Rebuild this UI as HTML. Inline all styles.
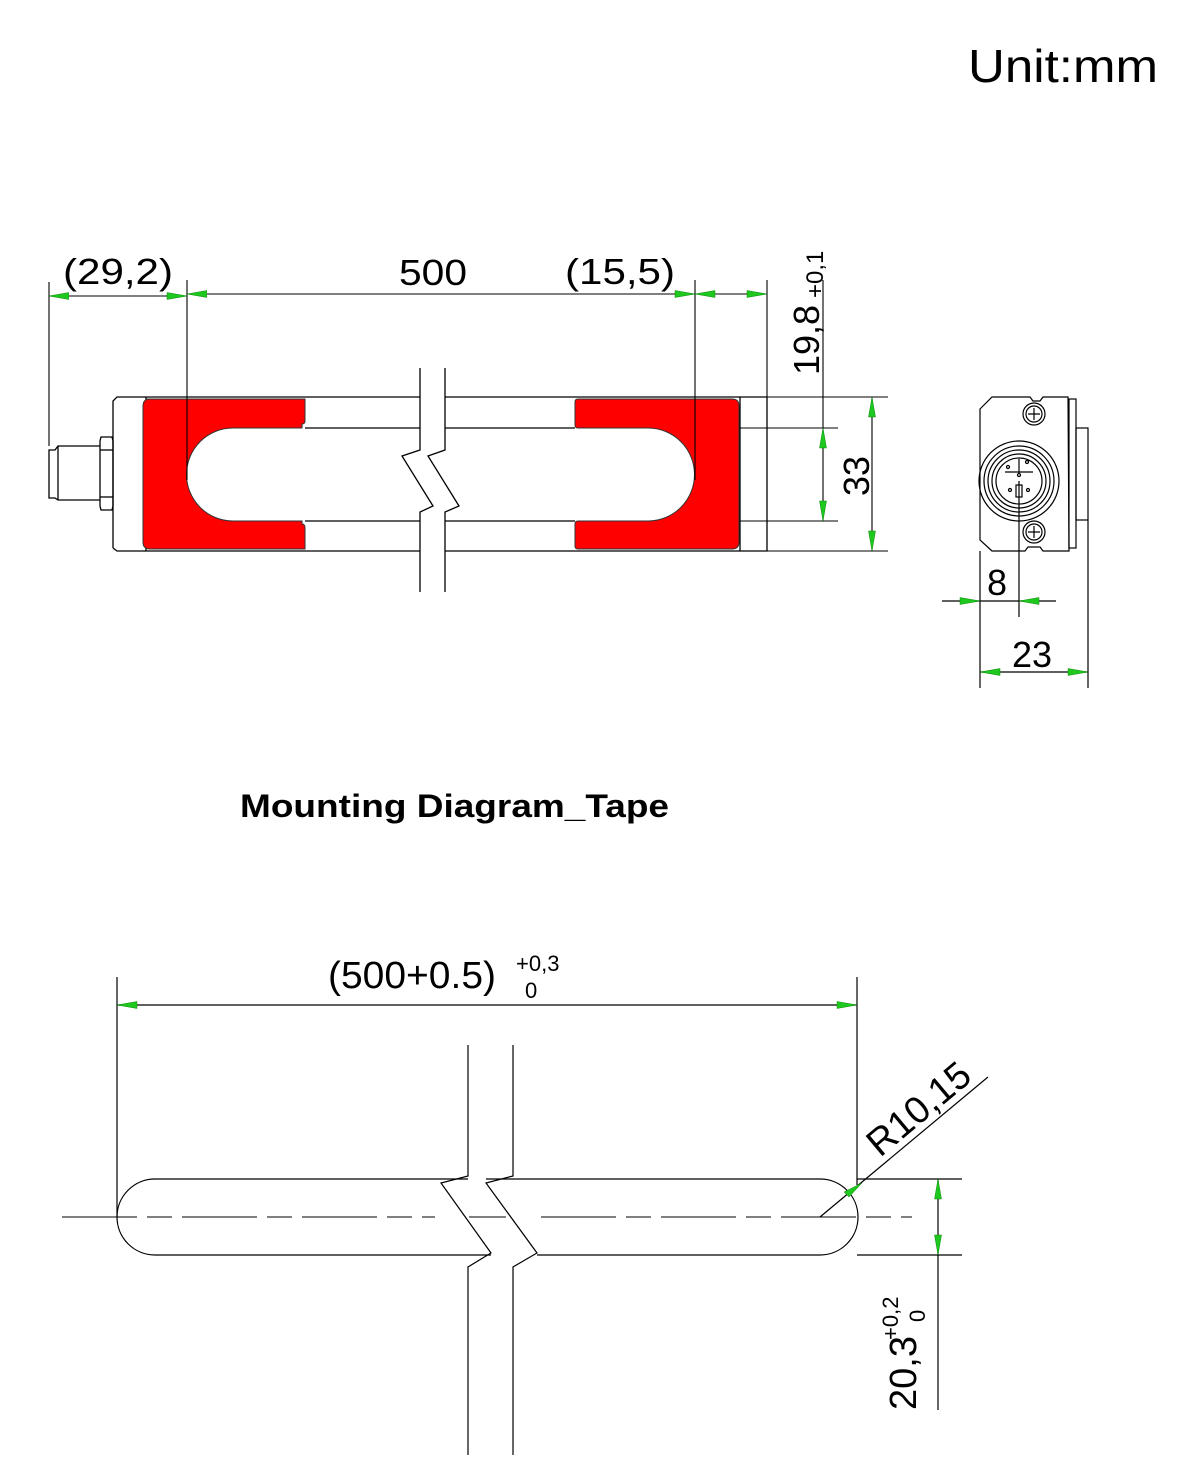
<!DOCTYPE html>
<html><head><meta charset="utf-8"><style>
html,body{margin:0;padding:0;background:#fff;}
svg{display:block;font-family:"Liberation Sans",sans-serif;}
</style></head><body>
<svg width="1179" height="1480" viewBox="0 0 1179 1480" xmlns="http://www.w3.org/2000/svg">
<defs>
<marker id="a" viewBox="0 0 20 8" markerWidth="20" markerHeight="8" refX="0" refY="4" orient="auto" markerUnits="userSpaceOnUse"><path d="M0,4 L20,0.5 L20,7.5 Z" fill="#1ec81e" stroke="#0a8a0a" stroke-width="0.5"/></marker>
</defs>
<g stroke="#000" stroke-width="1.3" fill="none">
<!-- top view body -->
<path d="M113,548 L113,401 L117,397 L420,397 M445,397 L767,397 L767,551 L445,551 M420,551 L117,551 L113,548"/>
<line x1="146" y1="397" x2="146" y2="551"/>
<line x1="740" y1="397" x2="740" y2="551"/>
<line x1="305" y1="428" x2="420" y2="428"/><line x1="445" y1="428" x2="575" y2="428"/>
<line x1="305" y1="521" x2="420" y2="521"/><line x1="445" y1="521" x2="575" y2="521"/>
<rect x="420" y="368" width="25" height="224" fill="#fff" stroke="none"/>
<path d="M420,368 L420,450 L402,456 L433,506 L420,512 L420,592"/>
<path d="M445,368 L445,450 L428,456 L459,506 L445,512 L445,592"/>
<!-- connector -->
<path d="M101,437 L112,437 L113,441 L113,506 L112,510 L101,510 L100,506 L100,441 Z"/>
<line x1="100" y1="450" x2="113" y2="450"/><line x1="100" y1="497" x2="113" y2="497"/>
<path d="M100,446 L58,446 L55,450 L49,450 L49,498 L55,498 L58,500 L100,500"/>
<line x1="58" y1="446" x2="58" y2="500"/>
</g>
<!-- red pads -->
<path d="M146,399 H305 V421 Q305,424 302,424 V428 H233 A46.5,46.5 0 0 0 233,521 H302 V524 Q305,524 305,528 V549 H150 Q143,549 143,542 V406 Q143,399 150,399 Z" fill="#ff0000" stroke="#333" stroke-width="1"/>
<path d="M578,399 H732 Q739,399 739,406 V542 Q739,549 732,549 H578 Q575,549 575,546 V524 Q575,521 578,521 H648 A46.5,46.5 0 0 0 648,428 H578 Q575,428 575,425 V402 Q575,399 578,399 Z" fill="#ff0000" stroke="#333" stroke-width="1"/>
<g stroke="#000" stroke-width="1.1" fill="none">
<line x1="49" y1="282" x2="49" y2="446"/>
<line x1="187" y1="280" x2="187" y2="480"/>
<line x1="695" y1="280" x2="695" y2="480"/>
<line x1="767" y1="280" x2="767" y2="397"/>
<line x1="49" y1="296" x2="187" y2="296" marker-start="url(#a)"/>
<line x1="187" y1="294" x2="695" y2="294" marker-start="url(#a)"/>
<line x1="695" y1="294" x2="767" y2="294"/>
<path d="M187,296 l-20,-3.5 v7 z" fill="#1ec81e" stroke="#0a8a0a" stroke-width="0.5"/>
<path d="M695,294 l-20,-3.5 v7 z" fill="#1ec81e" stroke="#0a8a0a" stroke-width="0.5"/>
<path d="M695,294 l20,-3.5 v7 z" fill="#1ec81e" stroke="#0a8a0a" stroke-width="0.5"/>
<path d="M767,294 l-20,-3.5 v7 z" fill="#1ec81e" stroke="#0a8a0a" stroke-width="0.5"/>
<line x1="767" y1="397" x2="888" y2="397"/><line x1="767" y1="551" x2="888" y2="551"/>
<line x1="740" y1="428" x2="838" y2="428"/><line x1="740" y1="521" x2="838" y2="521"/>
<line x1="823" y1="280" x2="823" y2="521"/>
<line x1="872" y1="397" x2="872" y2="551"/>
</g>
<g fill="#1ec81e" stroke="#0a8a0a" stroke-width="0.5">
<path d="M823,428 l-3.5,20 h7 z"/><path d="M823,521 l-3.5,-20 h7 z"/>
<path d="M872,397 l-3.5,20 h7 z"/><path d="M872,551 l-3.5,-20 h7 z"/>
</g>
<g font-size="36" fill="#000">
<text x="63" y="284" textLength="110" lengthAdjust="spacingAndGlyphs">(29,2)</text>
<text x="399" y="285" textLength="68" lengthAdjust="spacingAndGlyphs">500</text>
<text x="565" y="284" textLength="110" lengthAdjust="spacingAndGlyphs">(15,5)</text>
<text transform="translate(819,375) rotate(-90)">19,8</text>
<text transform="translate(823,298) rotate(-90)" font-size="24">+0,1</text>
<text transform="translate(869,496) rotate(-90)">33</text>
</g>
<!-- side view -->
<g stroke="#000" stroke-width="1.2" fill="none">
<path d="M980,409 L992,397 L1030,397 L1033,401 L1040,401 L1043,397 L1068,397 L1069,551 L1043,551 L1040,547 L1028,547 L1025,551 L992,551 L980,540 Z"/>
<rect x="1069" y="399" width="7" height="149"/>
<rect x="1076" y="428" width="12" height="92"/>
<circle cx="1019" cy="481" r="40"/><circle cx="1019" cy="481" r="35"/><circle cx="1019" cy="481" r="31"/><circle cx="1019" cy="481" r="27"/><circle cx="1019" cy="481" r="23"/>
<circle cx="1034" cy="414" r="11"/><circle cx="1034" cy="414" r="8"/>
<circle cx="1034" cy="532" r="11"/><circle cx="1034" cy="532" r="8"/>
<path d="M1034,408 v12 M1028,414 h12 M1034,526 v12 M1028,532 h12"/>
<path d="M1019,459 v14 M1005,472 h28"/>
<circle cx="1008" cy="467" r="1.5"/><circle cx="1027" cy="462" r="1.5"/><circle cx="1010" cy="490" r="1.5"/><circle cx="1028" cy="490" r="1.5"/><circle cx="1019" cy="475" r="1.5"/>
<rect x="1016" y="485" width="6" height="12"/>
<line x1="980" y1="551" x2="980" y2="688"/>
<line x1="1088" y1="520" x2="1088" y2="688"/>
<line x1="1019" y1="481" x2="1019" y2="617"/>
<line x1="942" y1="601" x2="1056" y2="601"/>
<line x1="980" y1="672" x2="1088" y2="672"/>
</g>
<g fill="#1ec81e" stroke="#0a8a0a" stroke-width="0.5">
<path d="M980,601 l-20,-3.5 v7 z"/><path d="M1019,601 l20,-3.5 v7 z"/>
<path d="M980,672 l20,-3.5 v7 z"/><path d="M1088,672 l-20,-3.5 v7 z"/>
</g>
<g font-size="36" fill="#000">
<text x="987" y="595">8</text>
<text x="1012" y="667">23</text>
<text x="968" y="82" font-size="46" textLength="190" lengthAdjust="spacingAndGlyphs">Unit:mm</text>
<text x="240" y="817" font-size="32" font-weight="bold" textLength="429" lengthAdjust="spacingAndGlyphs">Mounting Diagram_Tape</text>
<text x="328" y="988" font-size="38" textLength="168" lengthAdjust="spacingAndGlyphs">(500+0.5)</text>
<text x="516" y="971" font-size="22">+0,3</text>
<text x="525" y="998" font-size="22">0</text>
<text transform="translate(880,1158) rotate(-40)" font-size="38">R10,15</text>
<text transform="translate(916,1410) rotate(-90)" font-size="38">20,3</text>
<text transform="translate(898,1340) rotate(-90)" font-size="22">+0,2</text>
<text transform="translate(925,1322) rotate(-90)" font-size="22">0</text>
</g>
<!-- bottom tape -->
<g stroke="#000" stroke-width="1.2" fill="none">
<path d="M468,1179 H155 A38,38 0 0 0 155,1255 H491 M537,1255 H820 A38,38 0 0 0 820,1179 H486"/>
<path d="M468,1045 L468,1176 L441,1183 L491,1253 L468,1267 L468,1455"/>
<path d="M513,1045 L513,1176 L486,1183 L537,1253 L513,1267 L513,1455"/>
<path d="M62,1217 H435 M469,1217 H506 M541,1217 H912" stroke-dasharray="75,10,25,10" stroke-width="1"/>
<line x1="117" y1="977" x2="117" y2="1217"/>
<line x1="857" y1="977" x2="857" y2="1185"/>
<line x1="117" y1="1005" x2="857" y2="1005"/>
<line x1="820" y1="1217" x2="988" y2="1077"/>
<line x1="857" y1="1179" x2="962" y2="1179"/>
<line x1="857" y1="1255" x2="962" y2="1255"/>
<line x1="938" y1="1179" x2="938" y2="1410"/>
</g>
<g fill="#1ec81e" stroke="#0a8a0a" stroke-width="0.5">
<path d="M117,1005 l20,-3.5 v7 z"/><path d="M857,1005 l-20,-3.5 v7 z"/>
<path d="M938,1179 l-3.5,20 h7 z"/><path d="M938,1255 l-3.5,-20 h7 z"/>
<path d="M862,1183 l-13,14 l-5,-5 z"/>
</g>
</svg>
</body></html>
